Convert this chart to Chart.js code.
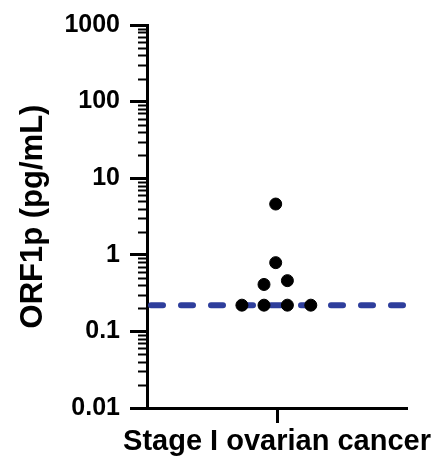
<!DOCTYPE html>
<html>
<head>
<meta charset="utf-8">
<script src="https://cdn.jsdelivr.net/npm/chart.js@4/dist/chart.umd.min.js"></script>
<style>
  html, body { margin: 0; padding: 0; background: #fff; }
  #wrap { width: 435px; height: 461px; }
</style>
</head>
<body>
<div id="wrap"><canvas id="canvas" width="435" height="461"></canvas></div>
<script>
var groupLabel = 'Stage I ovarian cancer';
var orf1pValues = [4.6, 0.79, 0.41, 0.46, 0.22, 0.22, 0.22, 0.22]; // pg/mL
var xJitter = [-0.01, -0.01, -0.1, 0.08, -0.27, -0.1, 0.08, 0.26];
var lodValue = 0.22;
var yTicks = [0.01, 0.1, 1, 10, 100, 1000];

var points = orf1pValues.map(function (v, i) {
  return { x: 1 + xJitter[i], y: v };
});

// short minor ticks (2..9 of each decade)
var minorTicks = {
  id: 'minorTicks',
  afterDraw: function (chart) {
    var y = chart.scales.y;
    var ctx = chart.ctx;
    var left = chart.chartArea.left;
    ctx.save();
    ctx.strokeStyle = '#000';
    ctx.lineWidth = 2;
    for (var d = 0; d < yTicks.length - 1; d++) {
      for (var m = 2; m < 10; m++) {
        var py = Math.round(y.getPixelForValue(yTicks[d] * m)) + 0.5;
        ctx.beginPath();
        ctx.moveTo(left - 9, py);
        ctx.lineTo(left, py);
        ctx.stroke();
      }
    }
    ctx.restore();
  }
};

var ctx = document.getElementById('canvas');
var myChart = new Chart(ctx, {
  type: 'scatter',
  data: {
    datasets: [
      {
        label: 'LOD',
        type: 'line',
        data: [{ x: 0, y: lodValue }, { x: 2, y: lodValue }],
        borderColor: '#2e3e9c',
        borderWidth: 6,
        borderDash: [12, 18],
        borderDashOffset: -4,
        borderCapStyle: 'round',
        pointRadius: 0,
        fill: false,
        order: 2
      },
      {
        label: groupLabel,
        data: points,
        backgroundColor: '#000',
        borderColor: '#000',
        pointRadius: 6,
        pointHoverRadius: 6,
        order: 1
      }
    ]
  },
  options: {
    responsive: false,
    animation: false,
    layout: { padding: { top: 25, right: 28, left: 0, bottom: 0 } },
    plugins: {
      legend: { display: false },
      tooltip: { enabled: false }
    },
    scales: {
      x: {
        type: 'linear',
        min: 0,
        max: 2,
        afterBuildTicks: function (scale) { scale.ticks = [{ value: 1 }]; },
        afterFit: function (scale) {
          scale.height = 53;
          scale.paddingLeft = 0;
          scale.paddingRight = 0;
        },
        ticks: {
          callback: function () { return groupLabel; },
          color: '#000',
          padding: 4,
          maxRotation: 0,
          font: { family: 'Liberation Sans, Arial', size: 29, weight: 'bold', lineHeight: 1 }
        },
        grid: { drawOnChartArea: false, tickLength: 15, tickWidth: 3, tickColor: '#000' },
        border: { display: true, color: '#000', width: 3 }
      },
      y: {
        type: 'logarithmic',
        min: 0.01,
        max: 1000,
        afterBuildTicks: function (scale) {
          scale.ticks = yTicks.map(function (v) { return { value: v, major: true }; });
        },
        afterFit: function (scale) { scale.width = 147; },
        ticks: {
          callback: function (v) { return String(v); },
          color: '#000',
          padding: 10,
          autoSkip: false,
          font: { family: 'Liberation Sans, Arial', size: 25, weight: 'bold' }
        },
        grid: { drawOnChartArea: false, tickLength: 17, tickWidth: 3, tickColor: '#000' },
        border: { display: true, color: '#000', width: 3 },
        title: {
          display: true,
          text: 'ORF1p (pg/mL)',
          color: '#000',
          padding: { top: 15, bottom: 0 },
          font: { family: 'Liberation Sans, Arial', size: 31, weight: 'bold', lineHeight: 1.2 }
        }
      }
    }
  },
  plugins: [minorTicks]
});
</script>
</body>
</html>
